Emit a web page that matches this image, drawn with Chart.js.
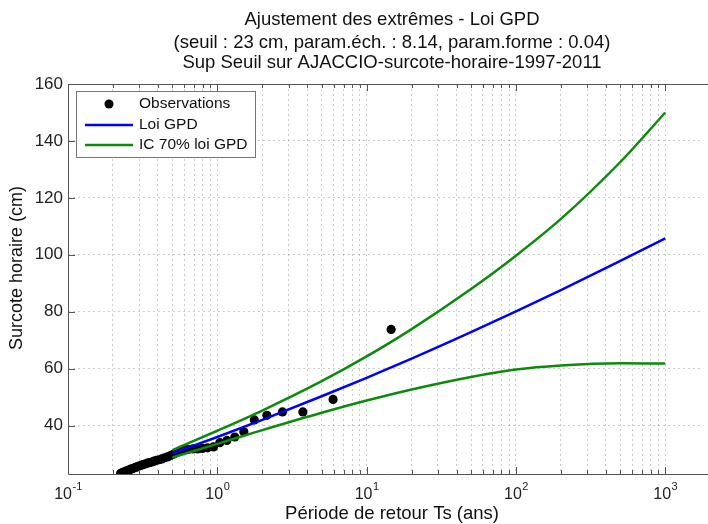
<!DOCTYPE html>
<html>
<head>
<meta charset="utf-8">
<script src="https://cdn.jsdelivr.net/npm/chart.js@4/dist/chart.umd.min.js"></script>
<style>
  html, body { margin: 0; padding: 0; background: #fff; }
  #wrap { width: 708px; height: 524px; }
</style>
</head>
<body>
<div id="wrap"><canvas id="c" width="708" height="524"></canvas></div>
<script>
// Texts
const titleLines = [
  'Ajustement des extrêmes - Loi GPD',
  '(seuil : 23 cm, param.éch. : 8.14, param.forme : 0.04)',
  'Sup Seuil sur AJACCIO-surcote-horaire-1997-2011'
];
const xAxisTitle = 'Période de retour Ts (ans)';
const yAxisTitle = 'Surcote horaire (cm)';
const legendLabels = ['Observations', 'Loi GPD', 'IC 70% loi GPD'];

// Tick labels: base 10 with exponent on the log axis, plain values on the y axis
const xTickBase = '10';
const xTickExponents = [-1, 0, 1, 2, 3];
const yTickValues = [40, 60, 80, 100, 120, 140, 160];

// Observed exceedances: return period (years) and surge (cm)
const obsPeriods = [14.59, 5.96, 3.74, 2.73, 2.147, 1.770, 1.505, 1.309, 1.159, 1.039,
  0.942, 0.861, 0.794, 0.736, 0.686, 0.642, 0.603, 0.569, 0.539, 0.511,
  0.487, 0.464, 0.444, 0.425, 0.408, 0.392, 0.377, 0.364, 0.351, 0.339,
  0.328, 0.318, 0.308, 0.299, 0.290, 0.282, 0.274, 0.267, 0.260, 0.254,
  0.247, 0.242, 0.236, 0.230, 0.225];
const obsValues = [73.8, 49.2, 44.8, 44.8, 43.6, 42.0, 37.8, 36.0, 34.8, 34.0,
  32.5, 32.2, 32.0, 31.8, 31.8, 31.7, 31.6, 31.3, 30.6, 30.0,
  29.5, 29.0, 28.7, 28.3, 28.0, 27.8, 27.5, 27.2, 27.0, 26.8,
  26.5, 26.3, 26.0, 25.8, 25.5, 25.3, 25.0, 24.8, 24.6, 24.3,
  24.1, 23.9, 23.7, 23.4, 23.2];

// Fitted GPD return levels and 70% confidence band
const curvePeriods = [0.5, 1, 2, 5, 10, 20, 50, 100, 200, 500, 1000];
const gpdLevels    = [30.3, 36.0, 42.0, 50.3, 56.8, 63.5, 72.8, 80.1, 87.6, 97.9, 105.8];
const icUpper      = [31.4, 38.2, 45.3, 55.6, 64.3, 73.9, 88.0, 99.7, 112.6, 132.6, 150.0];
const icLower      = [28.8, 33.6, 38.4, 44.5, 48.8, 52.7, 57.1, 59.7, 61.1, 61.9, 61.8];

const BLUE = '#0000ff';
const GREEN = '#0b8a0b';
const FONT = '"Liberation Sans", Arial, sans-serif';

const toXY = (xs, ys) => xs.map((x, i) => ({ x: x, y: ys[i] }));

const curveStyle = (color) => ({
  showLine: true, borderColor: color, backgroundColor: color, borderWidth: 2.5,
  pointRadius: 0, pointHoverRadius: 0, cubicInterpolationMode: 'monotone', fill: false
});

// Frame, ticks, titles, axis labels and legend
const decorations = {
  id: 'decorations',
  afterDraw(chart) {
    const ctx = chart.ctx;
    const a = chart.chartArea;
    const xs = chart.scales.x, ys = chart.scales.y;
    ctx.save();

    // frame (left, top, bottom)
    ctx.strokeStyle = '#555';
    ctx.lineWidth = 1;
    ctx.beginPath();
    ctx.moveTo(chart.width, a.top + 0.5);
    ctx.lineTo(a.left + 0.5, a.top + 0.5);
    ctx.lineTo(a.left + 0.5, a.bottom + 0.5);
    ctx.lineTo(chart.width, a.bottom + 0.5);
    ctx.stroke();

    // inward tick marks
    ctx.beginPath();
    for (let e = -1; e <= 3; e++) {
      for (let m = 1; m <= 9; m++) {
        const v = m * Math.pow(10, e);
        if (v > xs.max) break;
        const px = Math.round(xs.getPixelForValue(v)) + 0.5;
        const len = m === 1 ? 7 : 4;
        ctx.moveTo(px, a.bottom); ctx.lineTo(px, a.bottom - len);
        ctx.moveTo(px, a.top); ctx.lineTo(px, a.top + len);
      }
    }
    yTickValues.forEach(v => {
      const py = Math.round(ys.getPixelForValue(v)) + 0.5;
      ctx.moveTo(a.left, py); ctx.lineTo(a.left + 7, py);
    });
    ctx.stroke();

    // x tick labels 10^k
    ctx.fillStyle = '#222';
    ctx.textBaseline = 'alphabetic';
    xTickExponents.forEach(k => {
      const px = xs.getPixelForValue(Math.pow(10, k));
      const exp = String(k);
      ctx.font = '16px ' + FONT;
      const wb = ctx.measureText(xTickBase).width;
      ctx.font = '11px ' + FONT;
      const we = ctx.measureText(exp).width;
      const x0 = px - (wb + we) / 2;
      ctx.font = '16px ' + FONT;
      ctx.textAlign = 'left';
      ctx.fillText(xTickBase, x0, 499);
      ctx.font = '11px ' + FONT;
      ctx.fillText(exp, x0 + wb + 0.5, 490);
    });

    // titles
    ctx.fillStyle = '#111';
    ctx.textAlign = 'center';
    ctx.textBaseline = 'middle';
    ctx.font = '18.5px ' + FONT;
    const cx = 392;
    ctx.fillText(titleLines[0], cx, 20);
    ctx.fillText(titleLines[1], cx, 43);
    ctx.fillText(titleLines[2], cx, 63);

    // axis titles
    ctx.fillText(xAxisTitle, cx, 514);
    ctx.save();
    ctx.font = '18px ' + FONT;
    ctx.translate(17, 268);
    ctx.rotate(-Math.PI / 2);
    ctx.fillText(yAxisTitle, 0, 0);
    ctx.restore();

    // legend
    const lx = 76.5, ly = 91.5, lw = 179, lh = 66;
    ctx.fillStyle = '#fff';
    ctx.fillRect(lx, ly, lw, lh);
    ctx.strokeStyle = '#777';
    ctx.strokeRect(lx, ly, lw, lh);
    ctx.fillStyle = '#000';
    ctx.beginPath();
    ctx.arc(109, 104, 4.5, 0, Math.PI * 2);
    ctx.fill();
    ctx.lineWidth = 2.5;
    ctx.strokeStyle = BLUE;
    ctx.beginPath(); ctx.moveTo(85, 125); ctx.lineTo(133, 125); ctx.stroke();
    ctx.strokeStyle = GREEN;
    ctx.beginPath(); ctx.moveTo(85, 145); ctx.lineTo(133, 145); ctx.stroke();
    ctx.fillStyle = '#111';
    ctx.textAlign = 'left';
    ctx.font = '15.5px ' + FONT;
    ctx.fillText(legendLabels[0], 139, 104);
    ctx.fillText(legendLabels[1], 139, 125);
    ctx.fillText(legendLabels[2], 139, 145);

    ctx.restore();
  }
};

const gridStyle = { color: 'rgba(0,0,0,0.2)', lineWidth: 1, drawTicks: false };

new Chart(document.getElementById('c'), {
  type: 'scatter',
  data: {
    datasets: [
      Object.assign({ label: legendLabels[1], data: toXY(curvePeriods, gpdLevels) }, curveStyle(BLUE)),
      Object.assign({ label: legendLabels[2], data: toXY(curvePeriods, icUpper) }, curveStyle(GREEN)),
      Object.assign({ label: legendLabels[2] + ' (bas)', data: toXY(curvePeriods, icLower) }, curveStyle(GREEN)),
      { label: legendLabels[0], data: toXY(obsPeriods, obsValues), showLine: false,
        pointRadius: 4.6, pointBackgroundColor: '#000', pointBorderWidth: 0, borderColor: '#000' }
    ]
  },
  options: {
    responsive: false,
    animation: false,
    devicePixelRatio: 1,
    layout: { padding: { top: 84, left: 0, right: 0, bottom: 0 } },
    plugins: { legend: { display: false }, title: { display: false }, tooltip: { enabled: false } },
    scales: {
      x: {
        type: 'logarithmic', min: 0.1, max: 1800,
        grid: gridStyle,
        border: { display: false, dash: [2, 3] },
        ticks: { display: false },
        afterBuildTicks(scale) {
          const t = [];
          for (let e = -1; e <= 3; e++) {
            for (let m = 1; m <= 9; m++) {
              const v = m * Math.pow(10, e);
              if (v <= scale.max) t.push({ value: v });
            }
          }
          scale.ticks = t;
        },
        afterFit(scale) { scale.height = 50; }
      },
      y: {
        type: 'linear', min: 23, max: 160,
        grid: gridStyle,
        border: { display: false, dash: [2, 3] },
        ticks: { color: '#222', font: { family: FONT, size: 17 }, padding: 5 },
        afterBuildTicks(scale) { scale.ticks = yTickValues.map(v => ({ value: v })); },
        afterFit(scale) { scale.width = 68; }
      }
    }
  },
  plugins: [decorations]
});
</script>
</body>
</html>
